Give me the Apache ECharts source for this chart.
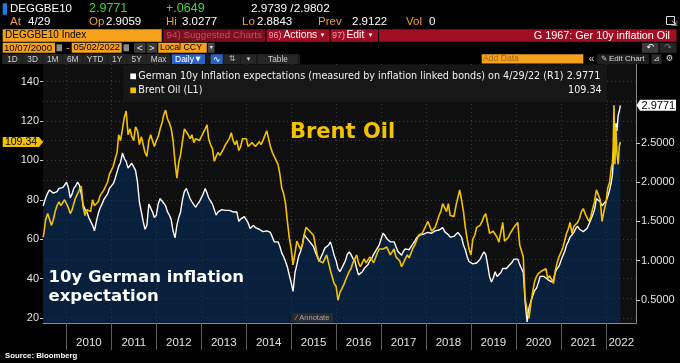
<!DOCTYPE html>
<html><head><meta charset="utf-8">
<script src="https://cdn.jsdelivr.net/npm/echarts@6/dist/echarts.min.js"></script>
<style>html,body{margin:0;padding:0;background:#000;}#c{width:680px;height:363px;}</style>
</head><body><div id="c"></div>
<script>
// ---------------- DATA ----------------
const startDate = '2009-06-25';
const dates2022 = ['2022-01-03','2022-01-17','2022-02-01','2022-02-14','2022-02-24','2022-03-01','2022-03-08','2022-03-16','2022-03-23','2022-04-01','2022-04-11','2022-04-20','2022-04-29'];

// Brent Oil (L1), semi-monthly (1st & 16th), USD
const brentStart = [61];
const brent2009 = [63, 70, 73, 72, 67, 70, 74, 77, 79, 77, 76, 80];
const brent2010 = [79, 76, 73, 75, 78, 81, 83, 85, 87, 76, 72, 75, 76, 74, 80, 77, 77, 79, 82, 83, 85, 87, 89, 93];
const brent2011 = [95, 97, 101, 104, 113, 110, 116, 122, 125, 113, 116, 112, 110, 117, 115, 108, 112, 111, 104, 102, 110, 113, 110, 107];
const brent2012 = [110, 112, 116, 119, 123, 125.5, 121, 119, 116, 110, 99, 91, 99, 103, 110, 116, 115, 113, 111, 113, 109, 111, 110, 110];
const brent2013 = [112, 111, 116, 118, 111, 108, 106, 99.5, 102, 104, 102.5, 103, 106, 108, 109, 111, 114, 110, 108, 110, 105, 107, 111, 110];
const brent2014 = [111, 107, 106, 109, 110, 107, 106, 109.5, 108, 110, 111, 115, 111, 107, 104, 102, 101, 98, 93, 86, 83, 78, 69, 61];
const brent2015 = [55, 47, 53, 59, 58, 55, 57, 62, 66, 67, 64, 63.5, 62, 57, 52, 49, 48, 48, 50, 52, 48, 44, 43, 37.5];
const brent2016 = [36, 29, 33, 33, 36.5, 39, 39, 43.5, 45, 48, 50, 52, 48, 46, 45, 50, 48, 47, 51, 52, 48, 47, 53, 55];
const brent2017 = [56, 55, 56, 56, 56, 52, 53, 55, 51, 52, 49, 46, 48, 49, 52, 50.5, 53, 55.5, 57, 58, 62, 62, 63, 63.5];
const brent2018 = [67, 69, 69, 64, 65, 66, 69, 72, 74, 78, 77, 74, 78, 72, 73, 71.5, 77, 78, 85, 80, 74, 66, 60, 55];
const brent2019 = [52, 60, 62, 66, 65, 67, 69, 71.5, 73, 72, 63, 62, 64, 64, 61, 58.5, 59, 68.5, 59, 59, 61, 63, 62, 66];
const brent2020 = [67, 68.5, 57, 57, 51, 30, 24, 19.8, 27, 33, 38.5, 41, 42.5, 43, 44, 45, 45, 40, 41.5, 42.5, 37.5, 44, 48, 51];
const brent2021 = [52, 55.5, 56, 63, 65, 68.5, 63, 66.5, 67, 68.5, 70.5, 74, 75.5, 73, 72, 69, 71.5, 75.5, 79, 85, 84.5, 80, 69, 74];
const brent2022 = [79, 86, 89, 96, 99, 105, 128, 98, 117, 104, 98, 107, 109.34];

// German 10y inflation expectations (R1), %
const beiStart = [1.70];
const bei2009 = [1.72, 1.80, 1.86, 1.90, 1.92, 1.86, 1.84, 1.88, 1.92, 1.90, 1.93, 1.96];
const bei2010 = [2.0, 1.93, 1.80, 1.85, 1.92, 1.95, 2.0, 1.96, 1.85, 1.71, 1.65, 1.62, 1.55, 1.50, 1.45, 1.38, 1.50, 1.60, 1.67, 1.72, 1.78, 1.76, 1.85, 1.92];
const bei2011 = [1.92, 1.98, 2.05, 2.13, 2.20, 2.25, 2.37, 2.30, 2.26, 2.18, 2.20, 2.24, 2.26, 2.15, 2.0, 1.75, 1.62, 1.50, 1.40, 1.45, 1.72, 1.70, 1.62, 1.55];
const bei2012 = [1.58, 1.72, 1.79, 1.76, 1.74, 1.70, 1.62, 1.58, 1.52, 1.38, 1.29, 1.45, 1.55, 1.62, 1.78, 1.88, 1.92, 1.90, 1.79, 1.75, 1.71, 1.68, 1.72, 1.75];
const bei2013 = [1.76, 1.85, 1.92, 1.86, 1.80, 1.76, 1.72, 1.65, 1.58, 1.62, 1.60, 1.65, 1.67, 1.64, 1.62, 1.64, 1.65, 1.62, 1.60, 1.62, 1.50, 1.53, 1.54, 1.56];
const bei2014 = [1.54, 1.48, 1.41, 1.42, 1.45, 1.42, 1.43, 1.40, 1.38, 1.37, 1.36, 1.38, 1.37, 1.36, 1.30, 1.24, 1.26, 1.24, 1.18, 1.10, 1.05, 0.99, 0.92, 0.82];
const bei2015 = [0.72, 0.61, 0.85, 0.95, 1.05, 1.11, 1.20, 1.33, 1.30, 1.28, 1.24, 1.22, 1.18, 1.11, 1.05, 0.99, 1.05, 1.10, 1.16, 1.18, 1.20, 1.24, 1.16, 1.07];
const bei2016 = [1.00, 0.90, 0.86, 0.88, 0.95, 1.00, 1.08, 1.11, 1.08, 1.03, 1.00, 0.90, 0.82, 0.84, 0.86, 0.90, 0.92, 0.95, 1.00, 1.03, 1.08, 1.12, 1.16, 1.20];
const bei2017 = [1.28, 1.35, 1.32, 1.28, 1.26, 1.24, 1.22, 1.24, 1.18, 1.12, 1.10, 1.07, 1.12, 1.15, 1.16, 1.14, 1.18, 1.20, 1.25, 1.29, 1.31, 1.33, 1.32, 1.34];
const bei2018 = [1.33, 1.36, 1.37, 1.35, 1.37, 1.38, 1.37, 1.39, 1.41, 1.42, 1.37, 1.36, 1.33, 1.30, 1.29, 1.31, 1.33, 1.36, 1.37, 1.30, 1.20, 1.14, 1.05, 0.99];
const bei2019 = [0.98, 0.96, 0.95, 0.97, 0.99, 1.02, 1.07, 1.11, 1.08, 0.95, 0.80, 0.73, 0.78, 0.86, 0.80, 0.82, 0.85, 0.90, 0.88, 0.90, 0.93, 0.95, 0.98, 1.02];
const bei2020 = [1.03, 1.02, 0.95, 0.94, 0.85, 0.48, 0.22, 0.40, 0.48, 0.55, 0.62, 0.65, 0.72, 0.80, 0.82, 0.80, 0.78, 0.76, 0.74, 0.73, 0.76, 0.85, 0.90, 0.93];
const bei2021 = [1.0, 1.06, 1.12, 1.20, 1.24, 1.30, 1.33, 1.36, 1.41, 1.44, 1.40, 1.38, 1.37, 1.36, 1.41, 1.42, 1.52, 1.58, 1.65, 1.79, 1.79, 1.75, 1.70, 1.72];
const bei2022 = [1.76, 1.82, 1.90, 2.0, 2.1, 2.25, 2.55, 2.4, 2.75, 2.65, 2.85, 2.9, 2.9771];

// Axis ticks / labels
const xMinDate = '2009-06-24';
const xMaxDate = '2022-09-03';
const yearStarts = ['2010-01-01','2011-01-01','2012-01-01','2013-01-01','2014-01-01','2015-01-01','2016-01-01','2017-01-01','2018-01-01','2019-01-01','2020-01-01','2021-01-01','2022-01-01'];
const yearLabelDates = ['2010-07-02','2011-07-02','2012-07-02','2013-07-02','2014-07-02','2015-07-02','2016-07-02','2017-07-02','2018-07-02','2019-07-02','2020-07-02','2021-07-02','2022-05-06'];
const leftTicks = [20, 40, 60, 80, 100, 120, 140];
const leftGrid = [20, 30, 40, 50, 60, 70, 80, 90, 100, 110, 120, 130, 140];
const rightTicks = [0.5, 1.0, 1.5, 2.0, 2.5];
const lastBrent = 109.34;
const lastBei = 2.9771;

// ---------------- BUILD ----------------
const ts = s => Date.UTC(+s.slice(0, 4), +s.slice(5, 7) - 1, +s.slice(8, 10));
function buildDates() {
  const d = [startDate];
  for (let y = 2009; y <= 2021; y++) {
    for (let m = (y === 2009 ? 7 : 1); m <= 12; m++) {
      const mm = String(m).padStart(2, '0');
      d.push(`${y}-${mm}-01`, `${y}-${mm}-16`);
    }
  }
  return d.concat(dates2022);
}
const dates = buildDates().map(ts);
const brent = [].concat(brentStart, brent2009, brent2010, brent2011, brent2012, brent2013, brent2014, brent2015, brent2016, brent2017, brent2018, brent2019, brent2020, brent2021, brent2022);
const bei = [].concat(beiStart, bei2009, bei2010, bei2011, bei2012, bei2013, bei2014, bei2015, bei2016, bei2017, bei2018, bei2019, bei2020, bei2021, bei2022);
const brentPairs = dates.map((d, i) => [d, brent[i]]);
const beiPairs = dates.map((d, i) => [d, bei[i]]);

const FONT = '"Liberation Sans", Arial, sans-serif';
const DJ = '"DejaVu Sans"';
const GRID_C = '#3b3b3b';
const YEL = '#f2c200';

const chart = echarts.init(document.getElementById('c'), null, {renderer: 'canvas'});
chart.setOption({
  backgroundColor: '#000',
  animation: false,
  grid: {left: 43, right: 44, top: 64, bottom: 40, show: true, backgroundColor: '#0f0f0f', borderWidth: 0},
  xAxis: {
    type: 'value', min: ts(xMinDate), max: ts(xMaxDate), scale: true,
    axisLine: {show: true, onZero: false, lineStyle: {color: '#8a8a8a', width: 1}},
    axisTick: {show: true, customValues: yearStarts.map(ts), length: 27, lineStyle: {color: '#5c5c5c', width: 1}},
    axisLabel: {customValues: yearLabelDates.map(ts), formatter: v => String(new Date(v).getUTCFullYear()), color: '#e2e2e2', fontSize: 11.5, fontFamily: FONT, margin: 14},
    splitLine: {show: true, lineStyle: {color: GRID_C, type: [1, 3], width: 1}}
  },
  yAxis: [
    {type: 'value', position: 'left', min: 17.46, max: 148.9,
     axisLine: {show: false},
     axisTick: {show: true, customValues: leftTicks, length: 3, lineStyle: {color: '#d0d0d0'}},
     axisLabel: {customValues: leftTicks, color: '#e2e2e2', fontSize: 11, fontFamily: FONT, margin: 4},
     splitLine: {show: false}},
    {type: 'value', position: 'right', min: 0.2074, max: 3.5025,
     axisLine: {show: true, lineStyle: {color: '#8a8a8a', width: 1}},
     axisTick: {show: true, customValues: rightTicks, length: 4, lineStyle: {color: '#d0d0d0'}},
     axisLabel: {customValues: rightTicks, formatter: v => Number(v).toFixed(4), color: '#e2e2e2', fontSize: 11, fontFamily: FONT, margin: 5},
     splitLine: {show: false}},
    {type: 'value', position: 'left', min: 17.46, max: 148.9,
     axisLine: {show: false},
     axisTick: {show: false, customValues: leftGrid},
     axisLabel: {show: false},
     splitLine: {show: true, lineStyle: {color: GRID_C, type: [1, 3], width: 1}}}
  ],
  series: [
    {type: 'line', name: 'German 10y Inflation expectations', yAxisIndex: 1, data: beiPairs, symbol: 'none',
     lineStyle: {color: '#ffffff', width: 1.4}, itemStyle: {color: '#ffffff'},
     areaStyle: {color: 'rgba(4,44,92,0.84)', origin: 'start'}, z: 2},
    {type: 'line', name: 'Brent Oil', yAxisIndex: 0, data: brentPairs, symbol: 'none',
     lineStyle: {color: YEL, width: 1.6}, itemStyle: {color: YEL}, z: 3}
  ]
});

// ---------------- DECORATION (terminal chrome, legend, notes) ----------------
const G = [];
function R(x, y, w, h, fill, extra) { G.push(Object.assign({type: 'rect', z: 100, silent: true, shape: {x, y, width: w, height: h, r: 0}, style: {fill}}, extra || {})); }
function T(x, y, text, fill, size, opt) {
  opt = opt || {};
  G.push({type: 'text', z: 101, silent: true, x, y, style: {text, fill, font: (opt.bold ? 'bold ' : '') + size + 'px ' + (opt.family || FONT), textAlign: opt.align || 'left', textVerticalAlign: 'middle'}});
}
const ORG = '#f5a11c', ORGT = '#f0a030', GRN = '#3dd63d', RED = '#a10d22';

// row 1
R(2.7, 3.3, 4.3, 11.5, '#1f7be3');
T(10, 8.8, 'DEGGBE10', '#fff', 11.5);
T(89, 8.8, '2.9771', GRN, 12.5);
T(166, 8.8, '+.0649', GRN, 12.5);
T(251, 8.8, '2.9739 /2.9802', '#fff', 11.8);
// row 2
T(10, 21.8, 'At', ORGT, 11.5); T(28, 21.8, '4/29', '#fff', 11.5);
T(89, 21.8, 'Op', ORGT, 11.5); T(106, 21.8, '2.9059', '#fff', 11.5);
T(166, 21.8, 'Hi', ORGT, 11.5); T(182, 21.8, '3.0277', '#fff', 11.5);
T(242, 21.8, 'Lo', ORGT, 11.5); T(257, 21.8, '2.8843', '#fff', 11.5);
T(318, 21.8, 'Prev', ORGT, 11.5); T(352, 21.8, '2.9122', '#fff', 11.5);
T(406, 21.8, 'Vol', ORGT, 11.5); T(429, 21.8, '0', '#fff', 11.5);
R(666.5, 16.5, 8, 8, 'none', {style: {fill: 'none', stroke: '#ddd', lineWidth: 1}});
T(671, 24, '\u21F2', '#ddd', 8, {family: DJ});
// row 3
R(2.7, 29.3, 159, 12.4, ORG); T(5, 35.6, 'DEGGBE10 Index', '#000', 10);
R(163.3, 29.3, 101.7, 12.4, '#7a0f1f'); T(166.5, 35.6, '94) Suggested Charts', '#c4505e', 9.8);
R(266.5, 29.3, 63, 12.4, RED); T(268.5, 35.6, '96)', '#e8a0a8', 9); T(283.5, 35.6, 'Actions', '#fff', 10.3); T(322.5, 35.6, '\u25BE', '#fff', 7, {family: DJ, align: 'center'});
R(330.5, 29.3, 47.5, 12.4, RED); T(332, 35.6, '97)', '#e8a0a8', 9); T(346.5, 35.6, 'Edit', '#fff', 10.3); T(370.5, 35.6, '\u25BE', '#fff', 7, {family: DJ, align: 'center'});
R(379, 29.3, 297.5, 12.4, RED); T(670, 35.6, 'G 1967: Ger 10y inflation Oil', '#fff', 10.8, {align: 'right'});
// row 4
R(2.7, 42.8, 52.3, 10, ORG); T(4, 47.9, '10/07/2000', '#000', 9.6);
R(56.5, 44.3, 5.5, 7, '#8a8a8a');
T(66, 47.9, '-', ORGT, 11);
R(71.7, 42.8, 50, 10, ORG); T(73.5, 47.9, '05/02/2022', '#000', 9.3);
R(123.5, 44.3, 5.5, 7, '#8a8a8a');
R(134, 42.8, 11.5, 10, '#383838'); T(139.7, 47.9, '<', '#eee', 9.5, {align: 'center'});
R(146.5, 42.8, 10.5, 10, '#383838'); T(151.7, 47.9, '>', '#eee', 9.5, {align: 'center'});
R(158.3, 42.8, 48.5, 10, ORG); T(160, 47.9, 'Local CCY', '#000', 8.8);
R(208, 42.8, 6.5, 10, '#4a4a4a'); T(211.2, 47.9, '\u25BE', '#eee', 6, {align: 'center', family: DJ});
R(642, 42.8, 16.5, 10, '#3a3a3a'); T(650, 47.9, '\u21B6', '#fff', 9, {align: 'center', family: DJ});
R(659.5, 42.8, 17, 10, '#262626'); T(668, 47.9, '\u21B7', '#777', 9, {align: 'center', family: DJ});
// row 5 toolbar
R(2, 54.3, 298, 9.7, '#1b1b1b');
const btns = [[2.7, 22.3, '1D'], [23, 42.3, '3D'], [43, 62.3, '1M'], [63, 82.3, '6M'], [83, 107.3, 'YTD'], [108, 126.3, '1Y'], [127, 146.3, '5Y'], [147, 170.3, 'Max'], [241, 256, '\u25BE'], [258, 298, 'Table']];
btns.forEach(b => { R(b[0], 54.3, b[1] - b[0], 9.7, '#262626'); T((b[0] + b[1]) / 2, 59.3, b[2], '#cfcfcf', b[2] === '\u25BE' ? 7 : 8.3, {align: 'center', family: b[2] === '\u25BE' ? DJ : FONT}); });
R(172, 54.3, 33, 9.7, '#2a62c6'); T(175, 59.3, 'Daily', '#fff', 8.5); T(198, 59.3, '\u25BC', '#fff', 6.5, {family: DJ, align: 'center'});
R(210.7, 54.3, 12, 9.7, '#2a62c6'); T(216.7, 59.3, '\u223F', '#fff', 9, {align: 'center', family: DJ});
R(224, 54.3, 16, 9.7, '#262626'); T(232, 59.3, '\u21C5', '#bbb', 8, {align: 'center', family: DJ});
R(481.7, 54.3, 101.6, 9.3, ORG); T(483, 59.1, 'Add Data', '#a86a12', 8.6);
T(591.5, 59.1, '\u00AB', '#ddd', 10, {align: 'center'});
R(597, 54.3, 52, 9.7, '#1f1f1f'); T(601, 59.1, '\u270E', '#ddd', 7.5, {family: DJ}); T(609, 59.1, 'Edit Chart', '#ddd', 8);
R(651.5, 54.3, 10, 9.7, '#2a2a2a'); T(656.5, 59.1, '\u22BF', '#ddd', 7.5, {align: 'center', family: DJ});
T(669.5, 59.1, '\u2699', '#ddd', 8.5, {align: 'center', family: DJ});

// legend box
R(123.3, 65, 483.4, 36.7, '#171717', {shape: {x: 123.3, y: 65, width: 483.4, height: 36.7, r: 2}});
R(130.3, 73.5, 5.7, 5.7, '#ffffff');
R(130.3, 87.5, 5.7, 5.7, YEL);
T(138.3, 76.6, 'German 10y Inflation expectations (measured by inflation linked bonds) on 4/29/22 (R1) ' + lastBei.toFixed(4), '#f0f0f0', 9.65, {family: DJ});
T(138.3, 90.6, 'Brent Oil (L1)', '#f0f0f0', 9.65, {family: DJ});
T(601.7, 90.6, lastBrent.toFixed(2), '#f0f0f0', 9.65, {align: 'right', family: DJ});

// annotations
T(290, 132.5, 'Brent Oil', YEL, 21, {bold: true, family: DJ});
T(48.5, 278, '10y German inflation', '#ffffff', 16.5, {bold: true, family: DJ});
T(48.5, 297, 'expectation', '#ffffff', 16.5, {bold: true, family: DJ});
R(292, 313, 41, 9, '#2a2a2a');
T(296, 317.6, '\u2215 Annotate', '#a8a8a8', 7.5);
T(5, 356, 'Source: Bloomberg', '#ffffff', 7.8, {bold: true});

// last-value markers positioned through the axes
const yB = chart.convertToPixel({yAxisIndex: 0}, lastBrent);
const yG = chart.convertToPixel({yAxisIndex: 1}, lastBei);
G.push({type: 'polygon', z: 100, silent: true, shape: {points: [[2.7, yB - 5], [39, yB - 5], [43.3, yB], [39, yB + 5], [2.7, yB + 5]]}, style: {fill: YEL}});
T(21, yB + 0.3, lastBrent.toFixed(2), '#000', 10.5, {align: 'center'});
G.push({type: 'polygon', z: 100, silent: true, shape: {points: [[636.5, yG], [640, yG - 5.5], [676, yG - 5.5], [676, yG + 5.5], [640, yG + 5.5]]}, style: {fill: '#ffffff'}});
T(658.3, yG + 0.3, lastBei.toFixed(4), '#000', 11, {align: 'center'});

chart.setOption({graphic: G});
</script></body></html>
